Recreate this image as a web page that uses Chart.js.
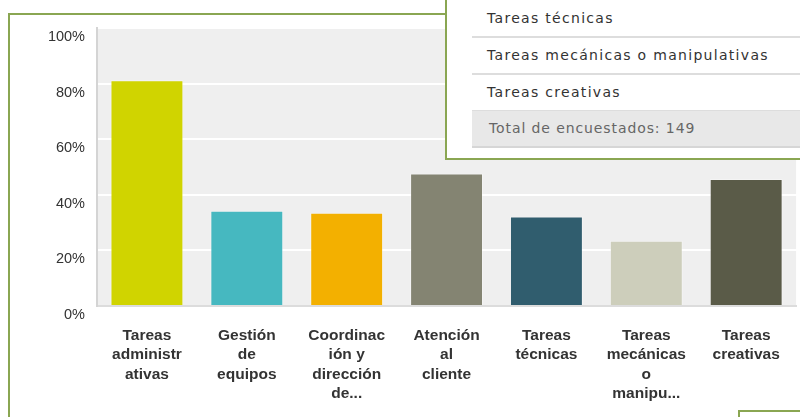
<!DOCTYPE html>
<html>
<head>
<meta charset="utf-8">
<script src="https://cdn.jsdelivr.net/npm/chart.js@4.4.1/dist/chart.umd.min.js"></script>
<style>
body { margin: 0; background: #fff; overflow: hidden; }
#wrap { position: relative; width: 800px; height: 417px; overflow: hidden; }
#myChart { position: absolute; left: 0; top: 0; }
#frame { position: absolute; left: 8px; top: 13px; width: 900px; height: 500px; border-top: 2px solid #8aa652; border-left: 2px solid #8aa652; }
#popup { position: absolute; left: 445px; top: -30px; width: 400px; height: 186px; background: #fff; border: 2px solid #8aa652; z-index: 5;
  font-family: "DejaVu Sans", Verdana, sans-serif; font-size: 14px; color: #333; letter-spacing: 1.3px; }
#popup .row { position: absolute; left: 25px; right: 0; height: 35px; border-bottom: 2px solid #ddd; line-height: 35px; padding-left: 15px; }
#popup .total { background: #e8e8e8; color: #666; border-bottom: 2px solid #d6d6d6; letter-spacing: 0.9px; padding-left: 17px; }
#corner { position: absolute; left: 738px; top: 410px; width: 100px; height: 50px; border: 2px solid #8aa652; background: #fff; }
</style>
</head>
<body>
<div id="wrap">
  <div id="frame"></div>
  <canvas id="myChart" width="800" height="417"></canvas>
  <div id="popup">
    <div class="row" style="top:29px">Tareas técnicas</div>
    <div class="row" style="top:66px">Tareas mecánicas o manipulativas</div>
    <div class="row" style="top:103px">Tareas creativas</div>
    <div class="row total" style="top:139px">Total de encuestados: 149</div>
  </div>
  <div id="corner"></div>
</div>
<script>
// categories (wrapped like the original labels)
var labels = [
    ['Tareas', 'administr', 'ativas'],
    ['Gestión', 'de', 'equipos'],
    ['Coordinac', 'ión y', 'dirección', 'de...'],
    ['Atención', 'al', 'cliente'],
    ['Tareas', 'técnicas'],
    ['Tareas', 'mecánicas', 'o', 'manipu...'],
    ['Tareas', 'creativas']
];
// percent of 149 respondents
var values = [81.21, 34.23, 33.56, 47.65, 32.21, 23.49, 45.64];
var colors = ['#d0d400', '#46b8c0', '#f3b000', '#848472', '#305d6e', '#cdcebb', '#5a5b48'];
var yTicks = [0, 20, 40, 60, 80, 100];

// gray plot background
var plotBg = {
    id: 'plotBg',
    beforeDraw: function(chart) {
        var a = chart.chartArea, c = chart.ctx;
        c.save();
        c.fillStyle = '#efefef';
        c.fillRect(a.left, a.top, a.right - a.left, a.bottom - a.top);
        c.restore();
    }
};

var ctx = document.getElementById('myChart').getContext('2d');
var myChart = new Chart(ctx, {
    type: 'bar',
    data: {
        labels: labels,
        datasets: [{
            data: values,
            backgroundColor: colors,
            borderColor: 'rgba(255,255,255,0.35)',
            borderWidth: 1,
            barPercentage: 0.73,
            categoryPercentage: 1
        }]
    },
    options: {
        responsive: false,
        animation: false,
        layout: { padding: { left: 0, top: 28, right: 3, bottom: 0 } },
        plugins: { legend: { display: false }, tooltip: { enabled: false } },
        scales: {
            x: {
                grid: { display: false, drawTicks: false },
                border: { display: true, color: '#dcdcdc', width: 2 },
                ticks: {
                    padding: 20,
                    maxRotation: 0,
                    autoSkip: false,
                    color: '#333',
                    font: { family: 'Arial, "Liberation Sans"', size: 15.5, weight: 'bold', lineHeight: 1.245 }
                },
                afterFit: function(s) { s.height = 111; }
            },
            y: {
                min: 0,
                max: 100,
                afterBuildTicks: function(s) { s.ticks = yTicks.map(function(v) { return { value: v }; }); },
                grid: { color: '#ffffff', lineWidth: 2, drawTicks: false },
                border: { display: true, color: '#d4d4d4', width: 2 },
                ticks: {
                    padding: 12,
                    labelOffset: 9,
                    color: '#333',
                    font: { family: 'Arial, "Liberation Sans"', size: 14.5 },
                    callback: function(v) { return v + '%'; }
                },
                afterFit: function(s) { s.width = 97; }
            }
        }
    },
    plugins: [plotBg]
});
</script>
</body>
</html>
